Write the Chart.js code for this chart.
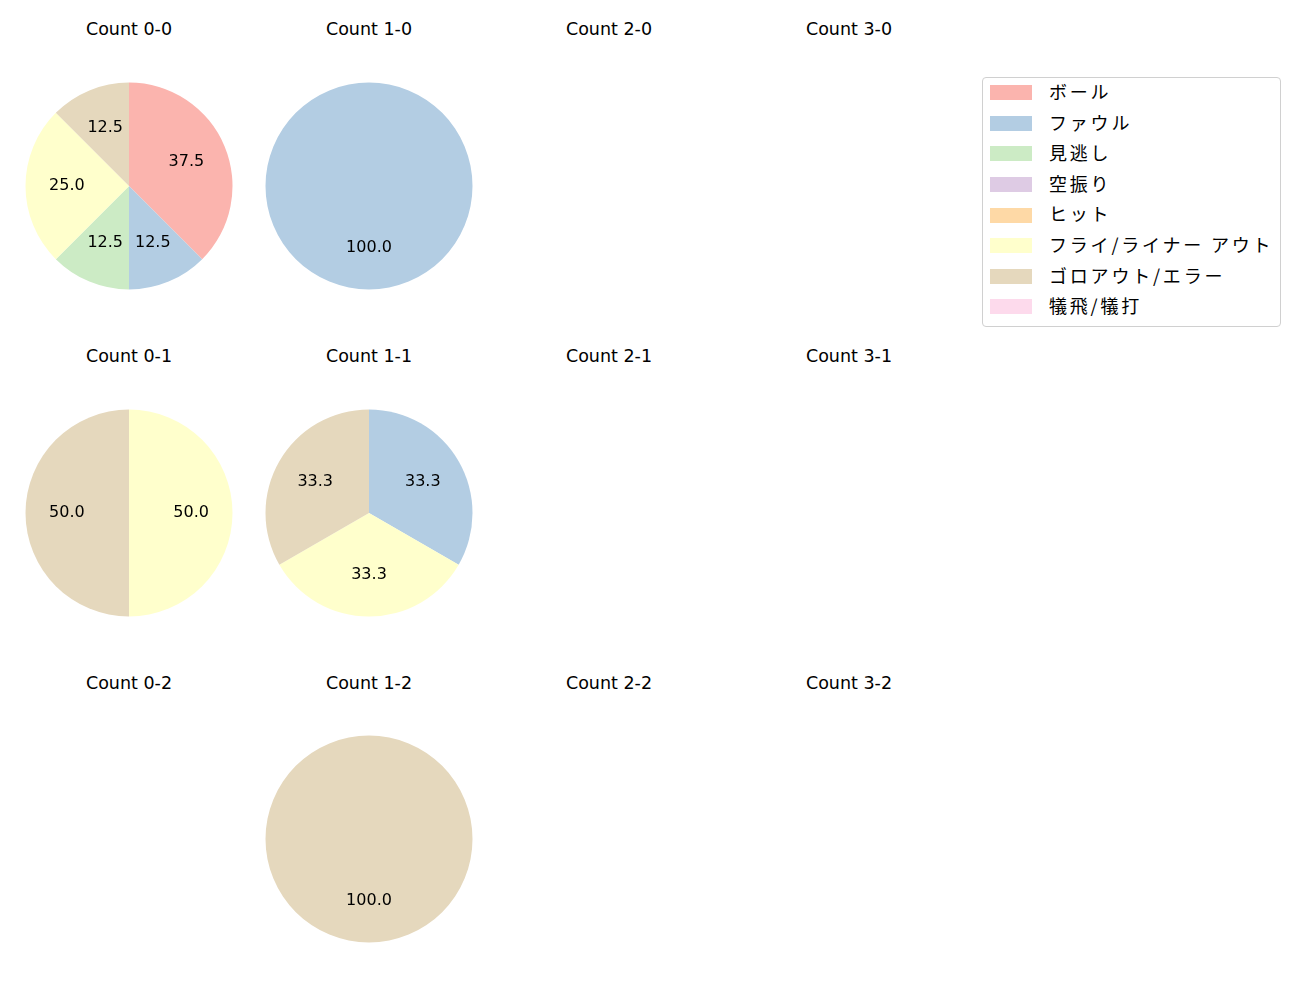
<!DOCTYPE html>
<html lang="ja">
<head>
<meta charset="UTF-8">
<title>Count pies</title>
<script src="https://cdn.jsdelivr.net/npm/chart.js"></script>
<style>
    body {
        margin: 0;
        width: 1300px;
        height: 1000px;
        background: white;
        position: relative;
        font-family: "Noto Sans CJK JP", sans-serif;
        overflow: hidden;
    }
    .cell {
        position: absolute;
        width: 220px;
        height: 220px;
    }
    .title {
        position: absolute;
        width: 240px;
        text-align: center;
        font-family: "DejaVu Sans", sans-serif;
        font-size: 17.5px;
        color: #000;
        line-height: 20px;
    }
    #legend {
        position: absolute;
        left: 982px;
        top: 77px;
        width: 297px;
        height: 248px;
        border: 1px solid #d0d0d0;
        border-radius: 4px;
        box-sizing: content-box;
    }
    .item {
        position: absolute;
        left: 7px;
        height: 20px;
        font-size: 18px;
        line-height: 20px;
        white-space: nowrap;
        letter-spacing: 2.8px;
    }
    .patch {
        display: inline-block;
        width: 42px;
        height: 15px;
        vertical-align: middle;
        margin-right: 17px;
        margin-top: -3px;
    }
</style>
</head>
<body>
<div id="legend"></div>

<script>
    const categories = ['ボール', 'ファウル', '見逃し', '空振り', 'ヒット', 'フライ/ライナー アウト', 'ゴロアウト/エラー', '犠飛/犠打'];
    const colors = ['#fbb4ae', '#b3cde3', '#ccebc5', '#decbe4', '#fed9a6', '#ffffcc', '#e5d8bd', '#fddaec'];

    // counts per category, one array per ball-strike count
    const count00 = [3, 1, 1, 0, 0, 2, 1, 0];
    const count10 = [0, 1, 0, 0, 0, 0, 0, 0];
    const count20 = [0, 0, 0, 0, 0, 0, 0, 0];
    const count30 = [0, 0, 0, 0, 0, 0, 0, 0];
    const count01 = [0, 0, 0, 0, 0, 1, 1, 0];
    const count11 = [0, 1, 0, 0, 0, 1, 1, 0];
    const count21 = [0, 0, 0, 0, 0, 0, 0, 0];
    const count31 = [0, 0, 0, 0, 0, 0, 0, 0];
    const count02 = [0, 0, 0, 0, 0, 0, 0, 0];
    const count12 = [0, 0, 0, 0, 0, 0, 1, 0];
    const count22 = [0, 0, 0, 0, 0, 0, 0, 0];
    const count32 = [0, 0, 0, 0, 0, 0, 0, 0];

    const panels = [
        ['Count 0-0', count00], ['Count 1-0', count10], ['Count 2-0', count20], ['Count 3-0', count30],
        ['Count 0-1', count01], ['Count 1-1', count11], ['Count 2-1', count21], ['Count 3-1', count31],
        ['Count 0-2', count02], ['Count 1-2', count12], ['Count 2-2', count22], ['Count 3-2', count32]
    ];

    const colX = [129, 369, 609, 849];
    const rowY = [186, 512.5, 839];
    const titleY = [19, 346, 673];

    // percent labels at 0.6 of the radius
    const pctLabels = {
        id: 'pctLabels',
        afterDatasetsDraw(chart) {
            const ctx = chart.ctx;
            const vals = chart.data.datasets[0].data;
            const total = vals.reduce((a, b) => a + b, 0);
            if (!total) return;
            ctx.save();
            ctx.font = '16px "DejaVu Sans", sans-serif';
            ctx.fillStyle = '#000';
            ctx.textAlign = 'center';
            ctx.textBaseline = 'middle';
            chart.getDatasetMeta(0).data.forEach((arc, i) => {
                if (!vals[i]) return;
                const mid = (arc.startAngle + arc.endAngle) / 2;
                const r = arc.outerRadius * 0.6;
                ctx.fillText((vals[i] / total * 100).toFixed(1), arc.x + Math.cos(mid) * r, arc.y + Math.sin(mid) * r - 0.5);
            });
            ctx.restore();
        }
    };

    panels.forEach((p, k) => {
        const col = k % 4, row = Math.floor(k / 4);
        const t = document.createElement('div');
        t.className = 'title';
        t.textContent = p[0];
        t.style.left = (colX[col] - 120) + 'px';
        t.style.top = titleY[row] + 'px';
        document.body.appendChild(t);

        const cell = document.createElement('div');
        cell.className = 'cell';
        cell.style.left = (colX[col] - 110) + 'px';
        cell.style.top = (rowY[row] - 110) + 'px';
        const cv = document.createElement('canvas');
        cell.appendChild(cv);
        document.body.appendChild(cell);

        new Chart(cv, {
            type: 'pie',
            data: {
                labels: categories,
                datasets: [{
                    data: p[1],
                    backgroundColor: colors,
                    borderWidth: 0
                }]
            },
            options: {
                responsive: true,
                maintainAspectRatio: false,
                animation: false,
                layout: { padding: 6.5 },
                plugins: {
                    legend: { display: false },
                    tooltip: { enabled: false }
                }
            },
            plugins: [pctLabels]
        });
    });

    const legend = document.getElementById('legend');
    categories.forEach((c, i) => {
        const it = document.createElement('div');
        it.className = 'item';
        it.style.top = (3 + i * 30.6) + 'px';
        const sw = document.createElement('span');
        sw.className = 'patch';
        sw.style.background = colors[i];
        it.appendChild(sw);
        it.appendChild(document.createTextNode(c));
        legend.appendChild(it);
    });
</script>
</body>
</html>
